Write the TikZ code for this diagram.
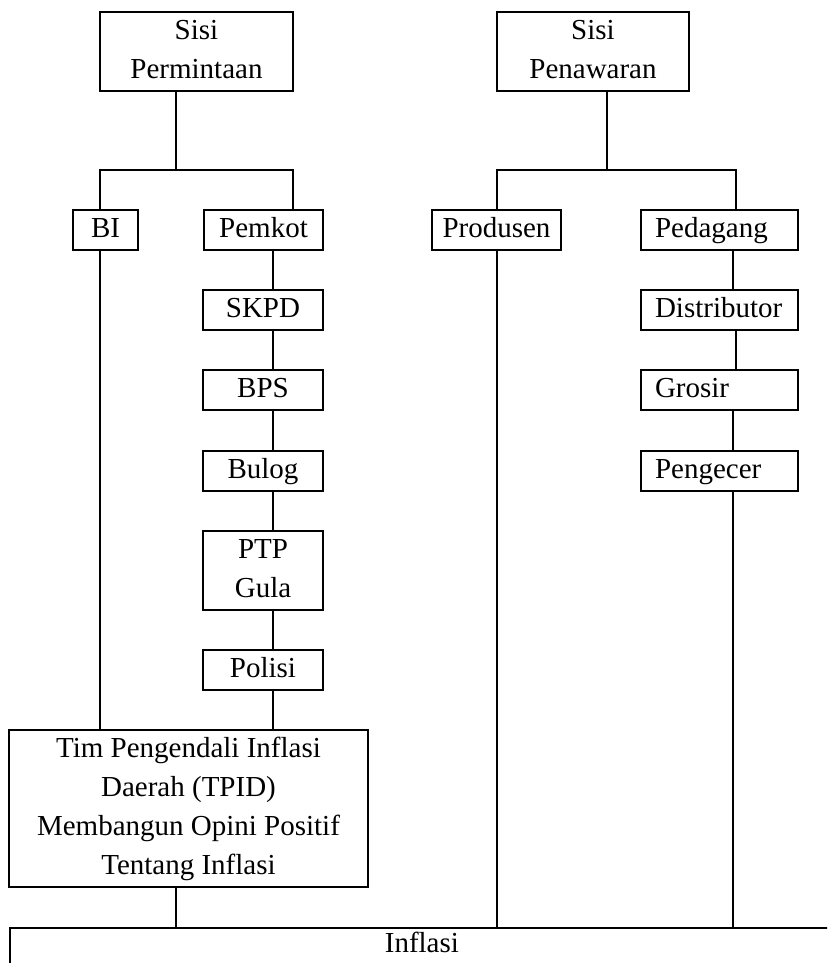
\documentclass[tikz,border=0pt]{standalone}
\usepackage{fontspec}
\setmainfont{Liberation Serif}
\begin{document}
\begin{tikzpicture}[x=1pt,y=-1pt,
  box/.style={draw, line width=1.8pt, inner sep=0pt, align=center,
    font=\fontsize{29}{39}\selectfont,
    execute at begin node=\strut, execute at end node=\strut},
  lbox/.style={box, align=left, inner xsep=14pt, text width=129pt, minimum width=157pt, minimum height=40pt},
  conn/.style={line width=1.8pt}]
\useasboundingbox (0,0) rectangle (827,963);
\fill[white] (0,0) rectangle (827,963);
\clip (0,0) rectangle (827,963);

% top level
\node[box, minimum width=193pt, minimum height=79pt] (SP) at (196.5,51.5) {\strut Sisi\\Permintaan\strut};
\node[box, minimum width=192pt, minimum height=79pt] (SW) at (593,51.5) {\strut Sisi\\Penawaran\strut};

% second level
\node[box, minimum width=65pt, minimum height=40pt] (BI) at (105.5,230) {BI};
\node[box, minimum width=119pt, minimum height=40pt] (Pemkot) at (263.5,230) {Pemkot};
\node[box, minimum width=129pt, minimum height=40pt] (Produsen) at (496.5,230) {Produsen};
\node[lbox] (Pedagang) at (719.5,230) {Pedagang};

% left chain
\node[box, minimum width=120pt, minimum height=40pt] (SKPD) at (263,310) {SKPD};
\node[box, minimum width=120pt, minimum height=40pt] (BPS) at (263,390) {BPS};
\node[box, minimum width=120pt, minimum height=40pt] (Bulog) at (263,471) {Bulog};
\node[box, minimum width=120pt, minimum height=79pt] (PTP) at (263,570.5) {\strut PTP\\Gula\strut};
\node[box, minimum width=120pt, minimum height=40pt] (Polisi) at (263,670) {Polisi};

% right chain
\node[lbox] (Distributor) at (719.5,310) {Distributor};
\node[lbox] (Grosir) at (719.5,390) {Grosir};
\node[lbox] (Pengecer) at (719.5,471) {Pengecer};

% TPID
\node[box, minimum width=359pt, minimum height=157pt] (TPID) at (188.5,808.5)
  {\strut Tim Pengendali Inflasi\\Daerah (TPID)\\Membangun Opini Positif\\Tentang Inflasi\strut};

% Inflasi (runs past the right and bottom edges)
\node[draw, line width=1.8pt, anchor=north west, inner xsep=0pt, inner ysep=6pt,
  text height=19pt, text depth=8pt, minimum width=824pt,
  font=\fontsize{29}{39}\selectfont] (inf) at (9,927) {Inflasi};

% junction coordinates
\coordinate (jL) at (176,170);
\coordinate (bL) at (100,170);
\coordinate (bR) at (293,170);
\coordinate (jR) at (607,170);
\coordinate (cL) at (497,170);
\coordinate (cR) at (736,170);
\coordinate (xp) at (273,0);
\coordinate (xq) at (733,0);
\coordinate (xr) at (736,0);

% top connectors
\draw[conn] (SP.south -| jL) -- (jL);
\draw[conn] (BI.north -| bL) -- (bL) -- (bR) -- (Pemkot.north -| bR);
\draw[conn] (SW.south -| jR) -- (jR);
\draw[conn] (Produsen.north -| cL) -- (cL) -- (cR) -- (Pedagang.north -| cR);

% left chain connectors
\draw[conn] (BI.south -| bL) -- (TPID.north -| bL);
\draw[conn] (Pemkot.south -| xp) -- (SKPD.north -| xp);
\draw[conn] (SKPD.south -| xp) -- (BPS.north -| xp);
\draw[conn] (BPS.south -| xp) -- (Bulog.north -| xp);
\draw[conn] (Bulog.south -| xp) -- (PTP.north -| xp);
\draw[conn] (PTP.south -| xp) -- (Polisi.north -| xp);
\draw[conn] (Polisi.south -| xp) -- (TPID.north -| xp);
\draw[conn] (TPID.south -| jL) -- (inf.north -| jL);

% right connectors
\draw[conn] (Produsen.south -| cL) -- (inf.north -| cL);
\draw[conn] (Pedagang.south -| xq) -- (Distributor.north -| xq);
\draw[conn] (Distributor.south -| xr) -- (Grosir.north -| xr);
\draw[conn] (Grosir.south -| xq) -- (Pengecer.north -| xq);
\draw[conn] (Pengecer.south -| xq) -- (inf.north -| xq);
\end{tikzpicture}
\end{document}
